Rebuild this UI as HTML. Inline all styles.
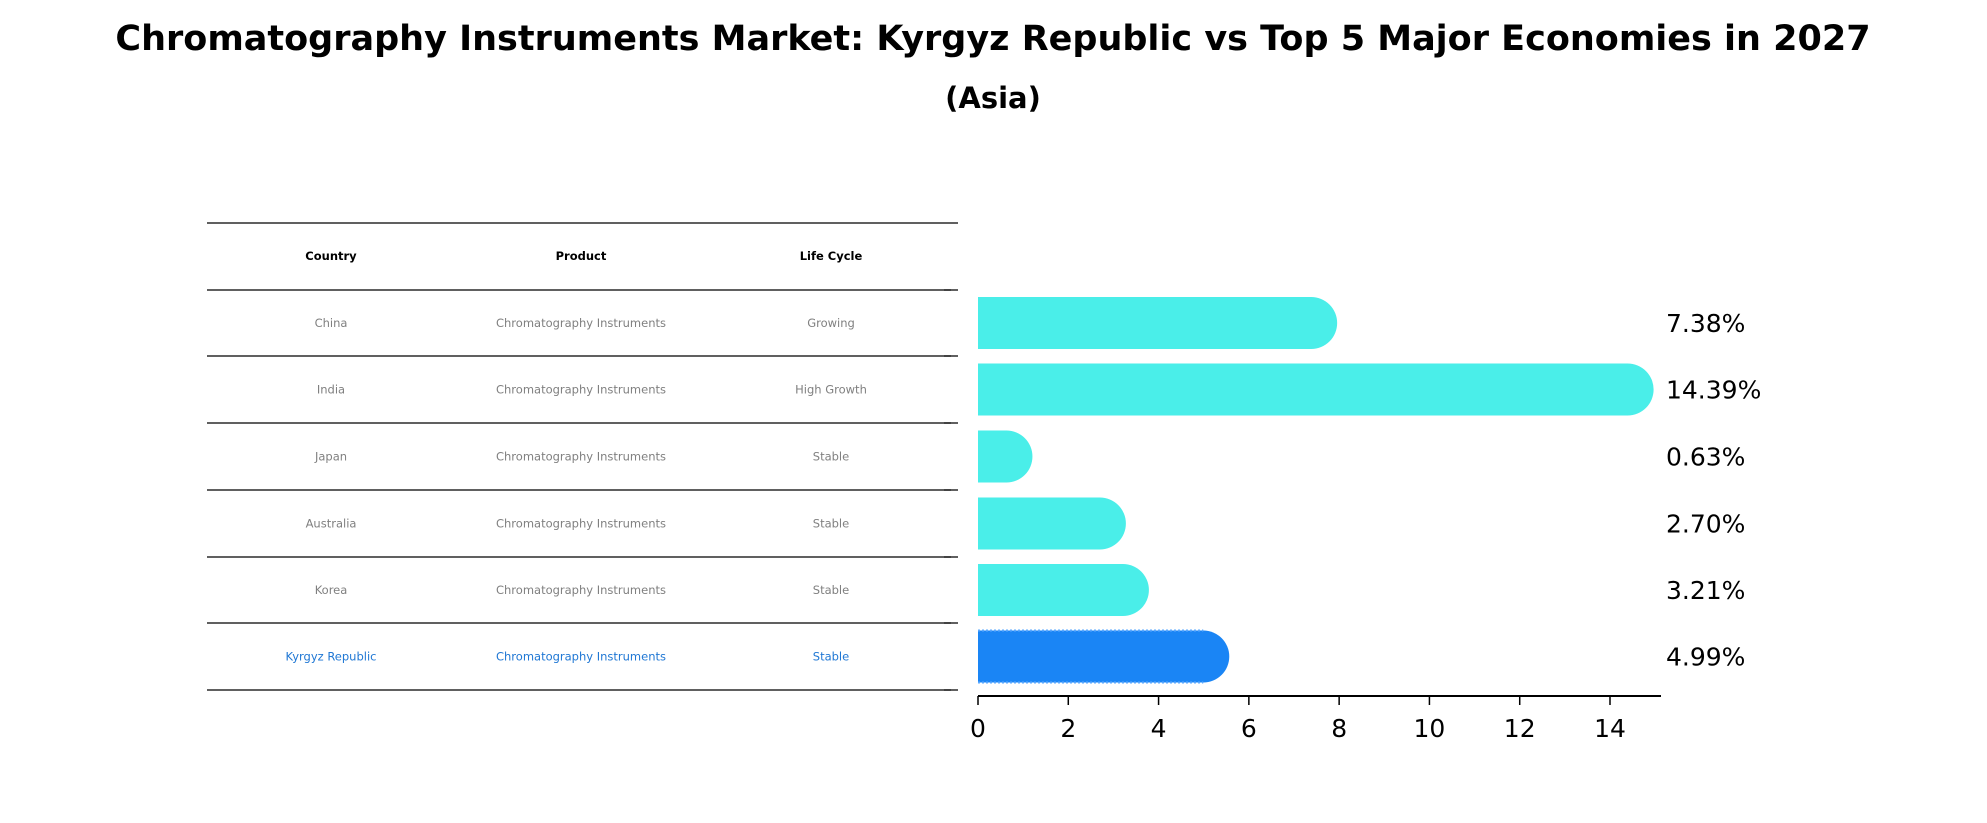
<!DOCTYPE html>
<html><head><meta charset="utf-8">
<style>
body{margin:0;background:#fff;}
svg{display:block;font-family:"DejaVu Sans","Liberation Sans",sans-serif;}
</style></head>
<body>
<svg id="chart" width="1987" height="823" viewBox="0 0 1987 823" xmlns="http://www.w3.org/2000/svg">
<text x="993" y="50" text-anchor="middle" font-size="35" font-weight="bold">Chromatography Instruments Market: Kyrgyz Republic vs Top 5 Major Economies in 2027</text>
<text x="993" y="108" text-anchor="middle" font-size="29" font-weight="bold">(Asia)</text>
<g id="table"></g>
<g id="bars"></g>
</svg>
<script>
const countries=["China","India","Japan","Australia","Korea","Kyrgyz Republic"];
const products=["Chromatography Instruments","Chromatography Instruments","Chromatography Instruments","Chromatography Instruments","Chromatography Instruments","Chromatography Instruments"];
const lifeCycles=["Growing","High Growth","Stable","Stable","Stable","Stable"];
const values=[7.38,14.39,0.63,2.70,3.21,4.99];
const valueLabels=["7.38%","14.39%","0.63%","2.70%","3.21%","4.99%"];
const xTicks=[0,2,4,6,8,10,12,14];

const NS="http://www.w3.org/2000/svg";
function mk(tag,attrs,parent){const e=document.createElementNS(NS,tag);for(const k in attrs)e.setAttribute(k,attrs[k]);parent.appendChild(e);return e;}
const tbl=document.getElementById('table');
const bars=document.getElementById('bars');
const lineYs=[223,290,356,423,490,557,623,690];
const colX=[331,581,831];
// table lines
lineYs.forEach((y,i)=>{const l=mk('line',{x1:207,x2:958,y1:y,y2:y,stroke:'#000','stroke-width':1.3},tbl);

});
["Country","Product","Life Cycle"].forEach((h,j)=>{const t=mk('text',{x:colX[j],y:260,'text-anchor':'middle','font-size':11.5,'font-weight':'bold'},tbl);t.textContent=h;

});
countries.forEach((c,i)=>{const y=(lineYs[i+1]+lineYs[i+2])/2+4;const col=i===countries.length-1?'#1f77d4':'#808080';
[c,products[i],lifeCycles[i]].forEach((v,j)=>{const t=mk('text',{x:colX[j],y:y,'text-anchor':'middle','font-size':11.5,fill:col},tbl);t.textContent=v;

});});
// bar axis
const x0=978,unit=(1610-978)/14;
const xs=v=>x0+v*unit;
const bh=52,r=26;
values.forEach((v,i)=>{const cy=(lineYs[i+1]+lineYs[i+2])/2;const col=i===values.length-1?'#1a85f5':'#4aeee9';
const p=mk('path',{d:`M${x0},${cy-bh/2} H${xs(v)} A${r},${r} 0 0 1 ${xs(v)},${cy+bh/2} H${x0} Z`,fill:col},bars);


if(i===values.length-1){mk('path',{d:`M${x0},${cy-bh/2} H${xs(v)} M${x0},${cy+bh/2} H${xs(v)}`,stroke:'#5aa8ff','stroke-width':2,'stroke-dasharray':'2,2',fill:'none'},bars);}
const t=mk('text',{x:1666,y:cy+9,'font-size':25},bars);t.textContent=valueLabels[i];

});
lineYs.slice(1).forEach(y=>{const l=mk('line',{x1:944,x2:951,y1:y,y2:y,stroke:'#000','stroke-width':1.3},bars);

});
const ax=mk('line',{x1:x0,x2:1661,y1:696,y2:696,stroke:'#000','stroke-width':2},bars);


xTicks.forEach(v=>{const l=mk('line',{x1:xs(v),x2:xs(v),y1:696,y2:705,stroke:'#000','stroke-width':1.5},bars);


const t=mk('text',{x:xs(v),y:737,'text-anchor':'middle','font-size':25},bars);t.textContent=v;

});
</script>
</body></html>
